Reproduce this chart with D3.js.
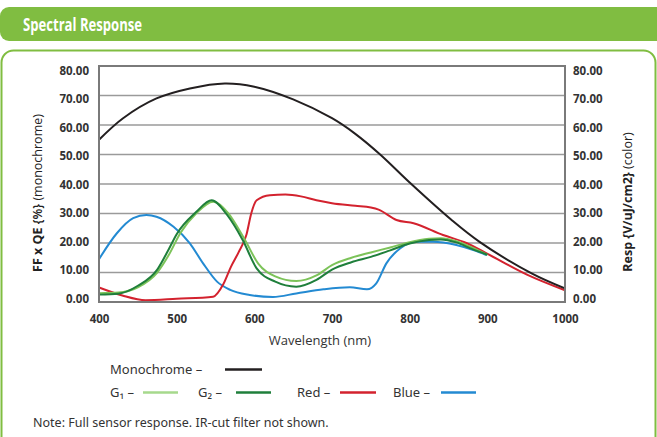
<!DOCTYPE html>
<html><head><meta charset="utf-8">
<script src="https://cdn.jsdelivr.net/npm/d3@7/dist/d3.min.js"></script>
<style>body{margin:0;background:#fff;}svg{display:block;}</style>
</head><body>
<script>
const wavelengthTicks = [400,500,600,700,800,900,1000];
const valueTicks = [0,10,20,30,40,50,60,70,80];

const monoWl  = [400,431,474,517,562,600,650,700,730,762,800,854,890,957,1000];
const monoVal = [55,62.3,69,72.4,74.1,73,68.7,62.3,57,50,40.5,27.8,20.4,9.7,4.6];

const g1Wl  = [400,425,450,475,490,505,525,547,565,588,605,627,654,680,700,725,750,775,800,825,840,860,880,900];
const g1Val = [3,3.2,5,10,16,23.5,30,34,30.5,21,13,8.7,7.1,9,12.5,15,16.8,18.5,20.3,21.4,21.6,20.6,18.5,16];

const g2Wl  = [400,425,450,475,490,500,525,545,565,585,603,627,654,680,700,725,750,775,800,825,840,860,880,900];
const g2Val = [2.5,2.8,5.5,11,18,23,30.5,34.5,29.5,21,11.4,6.9,5.2,7.5,11,13.5,15.3,17.5,19.8,21,21.2,20.2,18,16];

const redWl  = [400,430,460,500,547,560,570,580,590,596,603,620,640,660,680,700,730,750,760,783,805,843,873,899,951,1000];
const redVal = [4.9,2.2,0.6,1.1,1.8,6,12,17,23,30,34.5,36.2,36.4,35.8,34.5,33.5,32.6,32,31.3,27.8,26.7,22.7,20,16.5,9.3,4];

const blueWl  = [400,423,444,461,474,496,517,534,552,569,594,624,654,689,723,745,757,770,788,809,830,860,882,899];
const blueVal = [14.5,23.3,28.4,29.5,28.9,25.5,19.9,13.1,6.9,4.1,2.4,1.7,2.9,4.3,5.0,4.3,6.3,13.1,18.2,20.4,20.4,19.3,17.6,15.9];

const seriesNames = ["Monochrome","G₁","G₂","Red","Blue"];
const seriesColors = ["#231f20","#7cc359","#1f7f3b","#d3222e","#238ad2"];

const W = 657, H = 437;
const svg = d3.select("body").append("svg").attr("width", W).attr("height", H);

// header bar
svg.append("rect").attr("x",0).attr("y",7).attr("width",680).attr("height",34).attr("rx",9).attr("fill","#80bd41");
svg.append("text").attr("x",23).attr("y",31).attr("fill","#fff")
  .style("font-family","'Open Sans',sans-serif").style("font-weight",700).style("font-size","17.5px")
  .attr("textLength",119).attr("lengthAdjust","spacingAndGlyphs").text("Spectral Response");
// panel
svg.append("rect").attr("x",1.5).attr("y",50.5).attr("width",654).attr("height",400).attr("rx",12)
  .attr("fill","none").attr("stroke","#80bd41").attr("stroke-width",2);

const x = d3.scaleLinear().domain([400,1000]).range([99,565]);
const y = d3.scaleLinear().domain([0,80]).range([302,66]);
const yLabel = d3.scaleLinear().domain([0,80]).range([298,70]);

// grid
svg.append("g").selectAll("line").data(valueTicks.filter(v=>v>0&&v<80)).join("line")
  .attr("x1",x(400)).attr("x2",x(1000)).attr("y1",d=>y(d)).attr("y2",d=>y(d))
  .attr("stroke","#9a9a9a").attr("stroke-width",1.5);

const tickFont = sel => sel.style("font-family","'Open Sans',sans-serif").style("font-weight",700).style("font-size","11.5px").attr("fill","#333");

const yl = d3.axisLeft(yLabel).tickValues(valueTicks).tickFormat(d3.format(".2f")).tickSize(0).tickPadding(10);
const gl = svg.append("g").attr("transform",`translate(${x(400)},0)`).call(yl);
gl.select(".domain").remove();
gl.selectAll("text").call(tickFont).attr("dy","0.35em").attr("x",-10);
const yr = d3.axisRight(yLabel).tickValues(valueTicks).tickFormat(d3.format(".2f")).tickSize(0).tickPadding(8);
const gr = svg.append("g").attr("transform",`translate(${x(1000)},0)`).call(yr);
gr.select(".domain").remove();
gr.selectAll("text").call(tickFont).attr("dy","0.35em");
const xa = d3.axisBottom(x).tickValues(wavelengthTicks).tickFormat(d3.format("d")).tickSize(0).tickPadding(0);
const gx = svg.append("g").attr("transform",`translate(0,${y(0)})`).call(xa);
gx.select(".domain").remove();
gx.selectAll("text").call(tickFont).attr("y",21).attr("dy",0);

// lines
const lineMono = d3.line().x(d=>x(d[0])).y(d=>y(d[1])).curve(d3.curveCatmullRom.alpha(0.5));
const line = d3.line().x(d=>x(d[0])).y(d=>y(d[1])).curve(d3.curveMonotoneX);
const series = [
  [monoWl, monoVal],[g1Wl,g1Val],[g2Wl,g2Val],[redWl,redVal],[blueWl,blueVal]
];
const order = [4,3,1,2,0];
order.forEach(i=>{
  const [w,v] = series[i];
  svg.append("path").datum(w.map((d,k)=>[d,v[k]])).attr("d", i===0 ? lineMono : line)
    .attr("fill","none").attr("stroke",seriesColors[i]).attr("stroke-width",2).attr("stroke-linejoin","round");
});

// border
svg.append("rect").attr("x",x(400)).attr("y",y(80)).attr("width",x(1000)-x(400)).attr("height",y(0)-y(80))
  .attr("fill","none").attr("stroke","#7a7a7a").attr("stroke-width",2);

// axis titles
const lt = svg.append("text").attr("transform",`translate(42,193) rotate(-90)`).attr("text-anchor","middle")
  .style("font-family","'Open Sans',sans-serif").style("font-size","12.5px").attr("fill","#222");
lt.append("tspan").style("font-weight",700).text("FF x QE ");
lt.append("tspan").style("font-weight",600).text("{%} ");
lt.append("tspan").text("(monochrome)");
const rt = svg.append("text").attr("transform",`translate(632,202) rotate(-90)`).attr("text-anchor","middle")
  .style("font-family","'Open Sans',sans-serif").style("font-size","12.5px").attr("fill","#222");
rt.append("tspan").style("font-weight",700).text("Resp {V/uJ/cm2}");
rt.append("tspan").text(" (color)");

svg.append("text").attr("x",320).attr("y",345).attr("text-anchor","middle")
  .style("font-family","'Open Sans',sans-serif").style("font-size","13px").attr("fill","#333").text("Wavelength (nm)");

// legend
const legFont = sel => sel.style("font-family","'Noto Sans',sans-serif").style("font-size","13px").attr("fill","#333");
const legendItems = [
  {i:0, tx:110, ty:374, lx1:225, lx2:262},
  {i:1, tx:110, ty:397, lx1:143, lx2:178},
  {i:2, tx:198, ty:397, lx1:236, lx2:271},
  {i:3, tx:297, ty:397, lx1:340, lx2:376},
  {i:4, tx:393, ty:397, lx1:441, lx2:476}
];
legendItems.forEach(d=>{
  svg.append("text").attr("x",d.tx).attr("y",d.ty).call(legFont).text(seriesNames[d.i] + " –");
  svg.append("line").attr("x1",d.lx1).attr("x2",d.lx2).attr("y1",d.ty-4.5).attr("y2",d.ty-4.5)
    .attr("stroke", d.i===1 ? "#a6d98c" : seriesColors[d.i]).attr("stroke-width",2.5);
});
svg.append("text").attr("x",33).attr("y",427).call(legFont).style("font-size","12.5px")
  .text("Note: Full sensor response. IR-cut filter not shown.");
</script>
</body></html>
